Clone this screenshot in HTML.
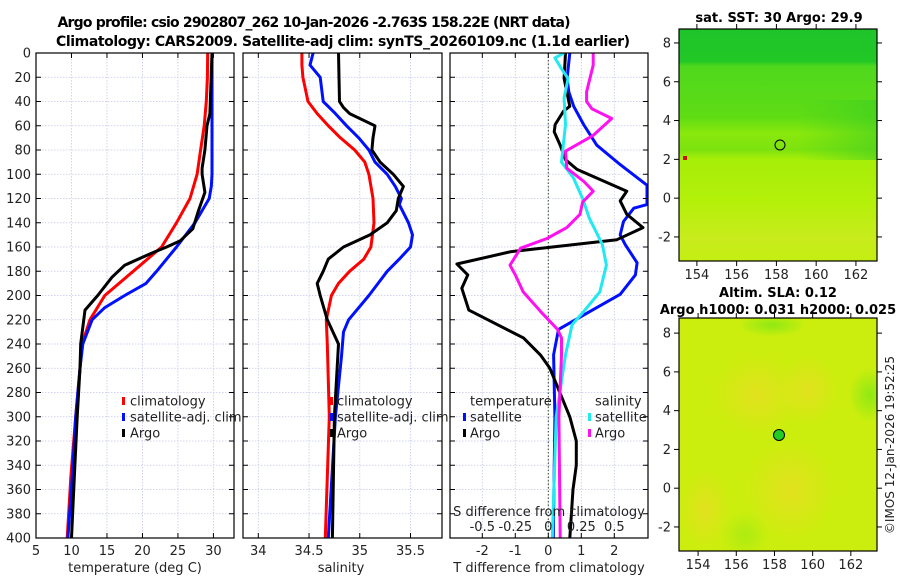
<!DOCTYPE html>
<html><head><meta charset="utf-8">
<style>
html,body{margin:0;padding:0;background:#fff;}
svg{display:block;font-family:"DejaVu Sans","Liberation Sans",sans-serif;}
</style></head>
<body>
<svg id="fig" width="900" height="580" viewBox="0 0 900 580" xmlns="http://www.w3.org/2000/svg">
<defs>
  <linearGradient id="sstGrad" x1="0" y1="0" x2="0" y2="1">
    <stop offset="0" stop-color="#1ec42a"/>
    <stop offset="0.14" stop-color="#22c826"/>
    <stop offset="0.16" stop-color="#4fd81e"/>
    <stop offset="0.38" stop-color="#5fdc14"/>
    <stop offset="0.45" stop-color="#8ae80c"/>
    <stop offset="0.52" stop-color="#7ce20e"/>
    <stop offset="0.56" stop-color="#a6ee08"/>
    <stop offset="0.75" stop-color="#b4f00a"/>
    <stop offset="0.9" stop-color="#c8ec1c"/>
    <stop offset="1" stop-color="#c4ee12"/>
  </linearGradient>
  <linearGradient id="sstSide" x1="0" y1="0" x2="1" y2="0">
    <stop offset="0" stop-color="#40d020" stop-opacity="0"/>
    <stop offset="0.6" stop-color="#40d020" stop-opacity="0"/>
    <stop offset="1" stop-color="#38cc24" stop-opacity="0.55"/>
  </linearGradient>
  <radialGradient id="slaBlob" cx="0.5" cy="0.5" r="0.5">
    <stop offset="0" stop-color="#e4e020" stop-opacity="0.9"/>
    <stop offset="1" stop-color="#e4e020" stop-opacity="0"/>
  </radialGradient>
  <radialGradient id="slaGreen" cx="0.5" cy="0.5" r="0.5">
    <stop offset="0" stop-color="#88e814" stop-opacity="0.9"/>
    <stop offset="1" stop-color="#88e814" stop-opacity="0"/>
  </radialGradient>
  <clipPath id="clipP1"><rect x="36" y="53" width="198" height="485"/></clipPath>
  <clipPath id="clipP2"><rect x="243" y="53" width="199" height="485"/></clipPath>
  <clipPath id="clipP3"><rect x="450" y="53" width="198" height="485"/></clipPath>
  <clipPath id="clipM2"><rect x="679" y="318" width="198" height="233"/></clipPath>
</defs>

<text x="314" y="27" font-size="14" font-weight="bold" text-anchor="middle" textLength="513">Argo profile: csio 2902807_262 10-Jan-2026 -2.763S 158.22E (NRT data)</text>
<text x="343" y="46" font-size="14" font-weight="bold" text-anchor="middle" textLength="574">Climatology: CARS2009. Satellite-adj clim: synTS_20260109.nc (1.1d earlier)</text>

<g id="p1"></g>
<g id="p2"></g>
<g id="p3"></g>

<g>
  <text x="779" y="22" font-size="13" font-weight="bold" text-anchor="middle">sat. SST: 30 Argo: 29.9</text>
  <rect x="679" y="29" width="198" height="232" fill="url(#sstGrad)"/>
  <rect x="679" y="100" width="198" height="60" fill="url(#sstSide)"/>
  <rect x="683" y="156" width="4" height="4" fill="#cc1010"/>
  <circle cx="780" cy="145" r="5" fill="none" stroke="#000" stroke-width="1"/>
  <g id="m1axes"></g>
</g>

<g>
  <text x="778" y="297" font-size="13" font-weight="bold" text-anchor="middle">Altim. SLA: 0.12</text>
  <text x="778" y="314" font-size="13" font-weight="bold" text-anchor="middle">Argo h1000: 0.031 h2000: 0.025</text>
  <g clip-path="url(#clipM2)">
    <rect x="679" y="318" width="198" height="233" fill="#ccee0e"/>
    <ellipse cx="757" cy="395" rx="45" ry="40" fill="url(#slaBlob)"/>
    <ellipse cx="808" cy="390" rx="30" ry="35" fill="url(#slaBlob)"/>
    <ellipse cx="790" cy="490" rx="45" ry="50" fill="url(#slaBlob)"/>
    <ellipse cx="705" cy="510" rx="25" ry="40" fill="url(#slaBlob)"/>
    <ellipse cx="870" cy="395" rx="22" ry="28" fill="url(#slaGreen)"/>
    <ellipse cx="772" cy="325" rx="35" ry="12" fill="url(#slaGreen)"/>
    <ellipse cx="745" cy="535" rx="25" ry="25" fill="url(#slaGreen)" opacity="0.5"/>
  </g>
  <circle cx="779" cy="435" r="5.5" fill="#22cc22" stroke="#000" stroke-width="1"/>
  <g id="m2axes"></g>
</g>

<text transform="translate(894,445) rotate(-90)" font-size="12" text-anchor="middle" fill="#222">©IMOS 12-Jan-2026 19:52:25</text>
</svg>

<script>
const depthTicks = [0,20,40,60,80,100,120,140,160,180,200,220,240,260,280,300,320,340,360,380,400];
const tempTicks = [5,10,15,20,25,30];
const salTicks = [34,34.5,35,35.5];
const tdiffTicks = [-2,-1,0,1,2];
const sdiffTicks = [-0.5,-0.25,0,0.25,0.5];
const sdiffTickLabels = ["-0.5","-0.25","0","0.25","0.5"];

const tempClimDepth = [0,20,40,60,80,100,120,140,160,180,200,220,240,260,300,350,400];
const tempClimVal   = [29.2,29.15,29.0,28.7,28.2,27.7,26.7,24.8,22.7,18.7,14.7,12.6,11.5,11.2,10.6,9.9,9.4];
const tempSatDepth = [0,40,100,110,120,140,160,180,190,200,210,220,240,260,300,350,400];
const tempSatVal   = [29.8,29.8,29.8,29.7,29.4,27.4,24.8,22.0,20.5,17.5,14.7,12.9,11.6,11.2,10.6,10.1,9.5];
const tempArgoDepth = [0,50,60,80,95,100,115,130,145,155,160,165,175,185,200,212,240,260,300,350,400];
const tempArgoVal   = [29.8,29.5,29.1,28.8,28.4,28.4,28.8,27.9,27.1,25.3,23.4,21.3,17.5,15.7,13.7,11.9,11.3,11.2,10.8,10.4,10.0];

const salClimDepth = [0,10,20,40,50,60,70,80,90,100,120,140,160,170,180,190,200,220,240,300,400];
const salClimVal   = [34.43,34.43,34.44,34.49,34.58,34.69,34.81,34.95,35.05,35.09,35.13,35.14,35.11,35.04,34.90,34.79,34.72,34.67,34.68,34.70,34.66];
const salSatDepth = [0,10,20,40,50,60,70,80,90,100,110,120,125,140,150,160,170,180,200,220,230,250,300,400];
const salSatVal   = [34.54,34.51,34.61,34.64,34.76,34.87,34.99,35.09,35.15,35.27,35.35,35.41,35.39,35.48,35.52,35.50,35.39,35.27,35.09,34.89,34.84,34.82,34.76,34.69];
const salArgoDepth = [0,40,45,50,60,70,80,90,100,110,120,130,140,150,160,170,180,190,200,220,240,300,400];
const salArgoVal   = [34.79,34.80,34.84,34.90,35.15,35.13,35.12,35.20,35.33,35.43,35.38,35.36,35.27,35.10,34.84,34.69,34.64,34.58,34.61,34.68,34.79,34.75,34.73];

const tdSatDepth = [0,21,32,44,59,76,92,109,125,128,139,150,158,173,183,199,213,228,249,300,400];
const tdSatVal   = [0.65,0.57,0.62,0.77,1.07,1.47,2.18,2.99,2.99,2.59,2.28,2.18,2.33,2.69,2.64,2.18,1.27,0.31,0.16,0.2,0.15];
const tdArgoDepth = [0,21,44,48,59,65,76,88,96,114,122,133,144,154,164,174,183,194,212,235,249,260,280,300,320,340,360,380,400];
const tdArgoVal   = [0.52,0.48,0.65,0.46,0.21,0.18,0.36,0.52,0.87,2.38,2.18,2.38,2.87,2.08,-1.15,-2.77,-2.44,-2.62,-2.41,-0.75,-0.24,0.05,0.35,0.65,0.85,0.85,0.75,0.7,0.65];
const sdSatDepth = [0,4,13,21,37,59,90,103,120,136,158,175,197,213,224,249,300,400];
const sdSatVal   = [0.12,0.05,0.10,0.15,0.12,0.13,0.10,0.19,0.26,0.31,0.41,0.44,0.39,0.27,0.18,0.13,0.06,0.03];
const sdArgoDepth = [0,10,32,40,46,54,68,81,95,106,114,123,133,144,153,161,175,183,197,213,228,235,249,300,400];
const sdArgoVal   = [0.34,0.34,0.29,0.29,0.33,0.48,0.34,0.13,0.14,0.27,0.34,0.26,0.24,0.14,-0.01,-0.21,-0.29,-0.25,-0.19,-0.06,0.07,0.10,0.10,0.08,0.09];

const latTicks = [8,6,4,2,0,-2];
const lonTicks = [154,156,158,160,162];

const NS = "http://www.w3.org/2000/svg";
function mk(tag, attrs, parent){ const e=document.createElementNS(NS,tag); for(const k in attrs) e.setAttribute(k,attrs[k]); parent.appendChild(e); return e; }
const yTop=53, yBot=538;
function yScale(d){ return yTop + d/400*(yBot-yTop); }
function lin(d0,d1,r0,r1){ return v => r0 + (v-d0)/(d1-d0)*(r1-r0); }

function frame(g, x0, x1, xTickVals, xs, name){
  depthTicks.forEach(d=>{
    if(d>0 && d<400){ const l=mk('line',{x1:x0,x2:x1,y1:yScale(d),y2:yScale(d),stroke:'#c4c8ec','stroke-width':0.8,'stroke-dasharray':'1.5,1.5'},g);
      
       }
  });
  xTickVals.forEach(v=>{ const x=xs(v); if(x>x0+1 && x<x1-1){
    const l=mk('line',{x1:x,x2:x,y1:yTop,y2:yBot,stroke:'#c4c8ec','stroke-width':0.8,'stroke-dasharray':'1.5,1.5'},g);
    
     }});
}
function border(g, x0, x1, xTickVals, xs, name){
  depthTicks.forEach(d=>{ const y=yScale(d);
    mk('line',{x1:x0,x2:x0+5,y1:y,y2:y,stroke:'#000','stroke-width':1},g);
    mk('line',{x1:x1-5,x2:x1,y1:y,y2:y,stroke:'#000','stroke-width':1},g);
  });
  xTickVals.forEach(v=>{ const x=xs(v);
    mk('line',{x1:x,x2:x,y1:yBot,y2:yBot-5,stroke:'#000','stroke-width':1},g);
    mk('line',{x1:x,x2:x,y1:yTop,y2:yTop+5,stroke:'#000','stroke-width':1},g);
  });
  const r=mk('rect',{x:x0,y:yTop,width:x1-x0,height:yBot-yTop,fill:'none',stroke:'#000','stroke-width':1.2},g);
  
  
}
function series(g, depths, vals, xs, color, name, clip){
  const pts = depths.map((d,i)=> xs(vals[i]).toFixed(1)+','+yScale(d).toFixed(1)).join(' ');
  const p=mk('polyline',{points:pts,fill:'none',stroke:color,'stroke-width':3,'stroke-linejoin':'round','clip-path':'url(#'+clip+')'},g);
  
  
}
function txt(g, x, y, s, attrs, name){
  const t=mk('text',Object.assign({x:x,y:y,'font-size':13,fill:'#222'},attrs||{}),g); t.textContent=s;
  
  
  return t;
}
function legendMark(g,x,y,color,name){
  const r=mk('rect',{x:x,y:y-4,width:3,height:8,fill:color},g);
  
  
}

(function(){
  const g=document.getElementById('p1');
  const xs=lin(5,32.9,36,234);
  frame(g,36,234,tempTicks,xs,'temp');
  series(g,tempClimDepth,tempClimVal,xs,'#ff0000','temp-climatology-line','clipP1');
  series(g,tempSatDepth,tempSatVal,xs,'#0010ff','temp-satellite-line','clipP1');
  series(g,tempArgoDepth,tempArgoVal,xs,'#000000','temp-argo-line','clipP1');
  border(g,36,234,tempTicks,xs,'temp');
  depthTicks.forEach(d=> txt(g,31,yScale(d)+4.5,String(d),{'text-anchor':'end'},'depth-tick-label'));
  tempTicks.forEach(v=> txt(g,xs(v),555,String(v),{'text-anchor':'middle'},'temp-tick-label'));
  txt(g,135,572,'temperature (deg C)',{'text-anchor':'middle'},'temp-x-axis-title');
  legendMark(g,122,401,'#ff0000','legend-climatology-mark');
  legendMark(g,122,417,'#0010ff','legend-satellite-mark');
  legendMark(g,122,433,'#000','legend-argo-mark');
  txt(g,130,405.5,'climatology',{},'legend-climatology');
  txt(g,130,421.5,'satellite-adj. clim',{},'legend-satellite-adj-clim');
  txt(g,130,437.5,'Argo',{},'legend-argo');
})();

(function(){
  const g=document.getElementById('p2');
  const xs=lin(34,35.5,258.3,410.5);
  frame(g,243,442,salTicks,xs,'sal');
  series(g,salClimDepth,salClimVal,xs,'#ff0000','sal-climatology-line','clipP2');
  series(g,salSatDepth,salSatVal,xs,'#0010ff','sal-satellite-line','clipP2');
  series(g,salArgoDepth,salArgoVal,xs,'#000000','sal-argo-line','clipP2');
  border(g,243,442,salTicks,xs,'sal');
  salTicks.forEach(v=> txt(g,xs(v),555,String(v),{'text-anchor':'middle'},'sal-tick-label'));
  txt(g,341,572,'salinity',{'text-anchor':'middle'},'sal-x-axis-title');
  legendMark(g,330,401,'#ff0000','legend-climatology-mark');
  legendMark(g,330,417,'#0010ff','legend-satellite-mark');
  legendMark(g,330,433,'#000','legend-argo-mark');
  txt(g,337,405.5,'climatology',{},'legend-climatology');
  txt(g,337,421.5,'satellite-adj. clim',{},'legend-satellite-adj-clim');
  txt(g,337,437.5,'Argo',{},'legend-argo');
})();

(function(){
  const g=document.getElementById('p3');
  const xt=lin(0,1,548.3,581.3);
  const xsd=v=>xt(v*4);
  frame(g,450,648,tdiffTicks,xt,'diff');
  const z=mk('line',{x1:xt(0),x2:xt(0),y1:yTop,y2:yBot,stroke:'#3a4a2a','stroke-width':1,'stroke-dasharray':'1.5,2'},g);
  
  
  series(g,tdSatDepth,tdSatVal,xt,'#0010ff','tdiff-satellite-line','clipP3');
  series(g,tdArgoDepth,tdArgoVal,xt,'#000000','tdiff-argo-line','clipP3');
  series(g,sdSatDepth,sdSatVal,xsd,'#22e8f0','sdiff-satellite-line','clipP3');
  series(g,sdArgoDepth,sdArgoVal,xsd,'#ff10f0','sdiff-argo-line','clipP3');
  border(g,450,648,tdiffTicks,xt,'diff');
  tdiffTicks.forEach(v=> txt(g,xt(v),555,String(v),{'text-anchor':'middle'},'tdiff-tick-label'));
  txt(g,549,572,'T difference from climatology',{'text-anchor':'middle'},'tdiff-x-axis-title');
  sdiffTicks.forEach((v,i)=> txt(g,xsd(v),531,sdiffTickLabels[i],{'text-anchor':'middle'},'sdiff-tick-label'));
  txt(g,549,516,'S difference from climatology',{'text-anchor':'middle'},'sdiff-axis-title');
  txt(g,470,405.5,'temperature',{},'legend-temperature-header');
  legendMark(g,463,417,'#0010ff','legend-t-satellite-mark');
  legendMark(g,463,433,'#000','legend-t-argo-mark');
  txt(g,470,421.5,'satellite',{},'legend-t-satellite');
  txt(g,470,437.5,'Argo',{},'legend-t-argo');
  txt(g,595,405.5,'salinity',{},'legend-salinity-header');
  legendMark(g,588,417,'#22e8f0','legend-s-satellite-mark');
  legendMark(g,588,433,'#ff10f0','legend-s-argo-mark');
  txt(g,595,421.5,'satellite',{},'legend-s-satellite');
  txt(g,595,437.5,'Argo',{},'legend-s-argo');
})();

function mapAxes(id, top, bot, latTop, latBot, lonL, lonR, name){
  const g=document.getElementById(id);
  const ys=lin(latTop,latBot,top,bot), xs=lin(lonL,lonR,679,877);
  const r=mk('rect',{x:679,y:top,width:198,height:bot-top,fill:'none',stroke:'#000','stroke-width':1.2},g);
  
  
  latTicks.forEach(v=>{ const y=ys(v);
    mk('line',{x1:674,x2:679,y1:y,y2:y,stroke:'#000'},g);
    mk('line',{x1:877,x2:882,y1:y,y2:y,stroke:'#000'},g);
    txt(g,671,y+4.5,String(v),{'text-anchor':'end'},name+'-lat-label');
  });
  lonTicks.forEach(v=>{ const x=xs(v);
    mk('line',{x1:x,x2:x,y1:top-5,y2:top,stroke:'#000'},g);
    mk('line',{x1:x,x2:x,y1:bot,y2:bot+5,stroke:'#000'},g);
    txt(g,x,bot+18,String(v),{'text-anchor':'middle'},name+'-lon-label');
  });
}
mapAxes('m1axes',29,261,8.72,-3.24,153.1,163.06,'sst-map');
mapAxes('m2axes',318,551,8.78,-3.24,153.0,163.37,'sla-map');
</script>
</body></html>
